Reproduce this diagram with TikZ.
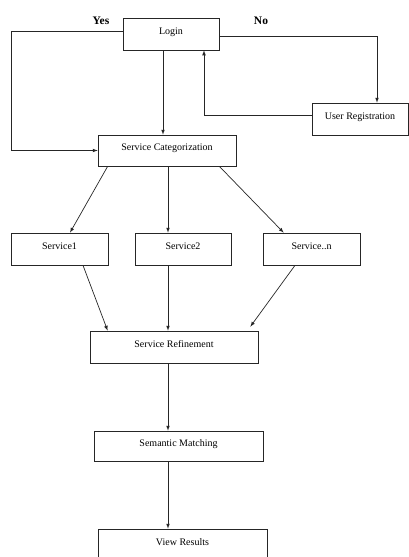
\documentclass[tikz,border=0pt]{standalone}
\usepackage{fontspec}
\setmainfont{Liberation Serif}
\usetikzlibrary{positioning,arrows,calc}

\begin{document}
\begin{tikzpicture}[
    x=1pt,
    y=-1pt,
    >=latex,
    line width=0.7pt,
    draw=black!85,
    box/.style={
        rectangle,
        draw=black!85,
        line width=0.7pt,
        fill=white,
        minimum height=32pt,
        inner sep=2pt,
        text height=7pt,
        text depth=7pt,
        font=\fontsize{10}{12}\selectfont
    },
    answer/.style={font=\fontsize{11.5}{13}\selectfont\bfseries}
]
    \clip (0,0) rectangle (409,557);

    % Boxes
    \node[box, minimum width=96pt] (login) at (171,34) {Login};
    \node[box, minimum width=138pt, minimum height=31pt] (categ) at (167,150.5) {Service Categorization};
    \node[box, minimum width=96pt] (register) at (360,119) {User Registration};
    \node[box, minimum width=97pt] (service1) at (59.5,249) {Service1};
    \node[box, minimum width=96pt] (service2) at (183,249) {Service2};
    \node[box, minimum width=97pt] (servicen) at (311.5,249) {Service..n};
    \node[box, minimum width=168pt] (refine) at (174,347) {Service Refinement};
    \node[box, minimum width=169pt, minimum height=30pt] (matching) at (178.5,446) {Semantic Matching};
    \node[box, minimum width=169pt] (results) at (182.5,545) {View Results};

    % Labels
    \node[answer] (yes) at (101,21) {Yes};
    \node[answer] (no) at (261,21) {No};

    % Vertical lines
    \coordinate (upper) at (163,0);
    \coordinate (spine) at (168,0);

    % Login paths
    \draw[->] (login.south -| upper) -- (categ.north -| upper);
    \draw[->] ([yshift=3pt]login.west) -| ($(categ.west)+(-86,0)$) -- (categ.west);
    \draw[->] ([yshift=-2pt]login.east) -| ([xshift=17pt]register.north);
    \draw[->] ([yshift=4pt]register.west) -| ([xshift=33pt]login.south);

    % Services
    \draw[->] ([xshift=10pt]categ.south west) -- ([xshift=10.5pt]service1.north);
    \draw[->] (categ.south -| spine) -- (service2.north -| spine);
    \draw[->] ([xshift=-17pt]categ.south east) -- ([xshift=21pt]servicen.north west);
    \draw[->] ([xshift=23.5pt]service1.south) -- ([xshift=18pt]refine.north west);
    \draw[->] (service2.south -| spine) -- (refine.north -| spine);
    \draw[->] ([xshift=-16.5pt]servicen.south) -- ([xshift=-8pt,yshift=4pt]refine.north east);

    % Matching and results
    \draw[->] (refine.south -| spine) -- (matching.north -| spine);
    \draw[->] (matching.south -| spine) -- (results.north -| spine);
\end{tikzpicture}
\end{document}
